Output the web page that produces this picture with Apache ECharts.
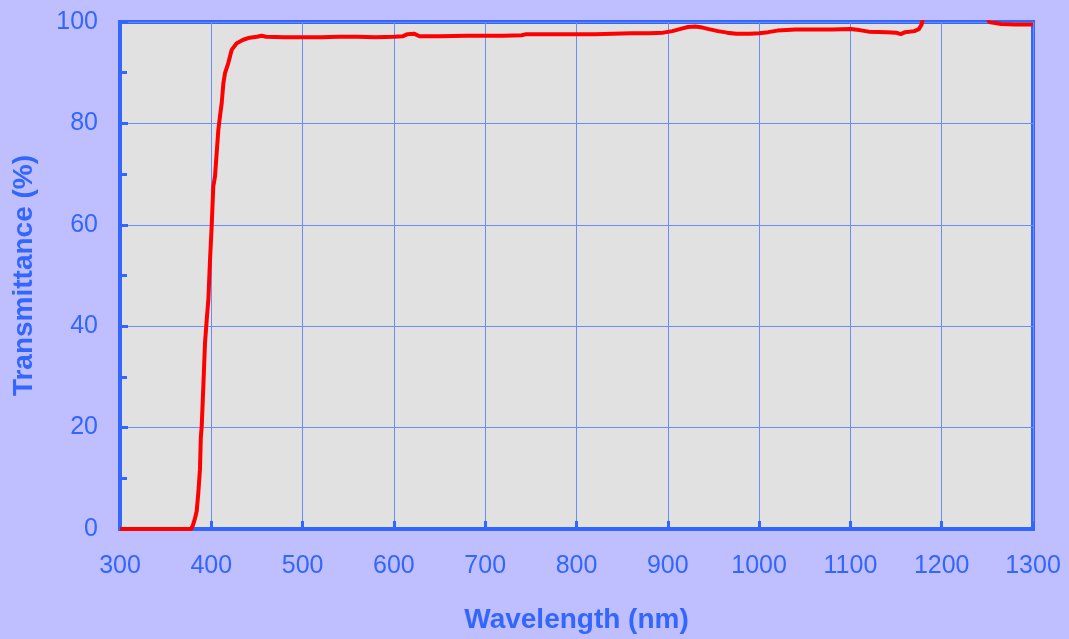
<!DOCTYPE html>
<html>
<head>
<meta charset="utf-8">
<script src="https://cdn.jsdelivr.net/npm/echarts@6/dist/echarts.min.js"></script>
<style>
  html, body { margin: 0; padding: 0; background: #BFBFFF; }
  #chart { width: 1069px; height: 639px; }
</style>
</head>
<body>
<div id="chart"></div>
<script>
// Wavelength (nm)
var wavelengths = [300, 378, 380, 382, 384, 385.8, 387.6, 388.5, 389.5, 391.3, 393.1, 395, 396.8, 398.6, 400.4,
  402.2, 404.1, 405.9, 407.7, 409.5, 411.4, 413.2, 415, 418.6, 422.3, 427.8, 435, 442, 450, 455, 460,
  480, 500, 520, 540, 560, 580, 600, 610, 615, 622, 628, 650, 680, 700, 720, 740, 745, 760, 780, 800,
  820, 840, 860, 880, 895, 905, 915, 922, 930, 938, 945, 955, 965, 975, 990, 1000, 1010, 1020, 1040,
  1060, 1080, 1100, 1110, 1120, 1140, 1150, 1155, 1160, 1170, 1175, 1178, 1180, 1200, 1230, 1250,
  1252, 1265, 1280, 1300];
// Transmittance (%)
var transmittance = [0, 0, 0.8, 2.0, 3.5, 7.2, 11.8, 18, 20.3, 28.2, 36.7, 41.3, 45.3, 53.1, 59.7,
  67.6, 69.6, 74.2, 78.7, 81.4, 84.0, 87.9, 89.9, 91.9, 94.5, 95.8, 96.5, 96.9, 97.1, 97.3, 97.1,
  97.0, 97.0, 97.0, 97.1, 97.1, 97.0, 97.1, 97.2, 97.6, 97.7, 97.2, 97.2, 97.3, 97.3, 97.3, 97.4, 97.6, 97.6, 97.6, 97.6,
  97.6, 97.7, 97.8, 97.8, 97.9, 98.2, 98.7, 99.0, 99.1, 98.9, 98.6, 98.2, 97.9, 97.7, 97.7, 97.8, 98.0, 98.3, 98.5,
  98.5, 98.5, 98.6, 98.4, 98.1, 98.0, 97.9, 97.6, 98.0, 98.2, 98.6, 99.5, 101.2, 101.2, 101.2, 101.2,
  100.0, 99.6, 99.5, 99.5];
var xTicks = [300, 400, 500, 600, 700, 800, 900, 1000, 1100, 1200, 1300];
var yTicks = [0, 20, 40, 60, 80, 100];

var seriesData = wavelengths.map(function (w, i) { return [w, transmittance[i]]; });

var blue = '#3366FF';
var chart = echarts.init(document.getElementById('chart'), null, { renderer: 'canvas' });
chart.setOption({
  backgroundColor: '#BFBFFF',
  animation: false,
  grid: {
    left: 120, right: 36, top: 22, bottom: 109,
    show: true, backgroundColor: '#E1E1E1', borderColor: blue, borderWidth: 4
  },
  xAxis: {
    type: 'value', min: xTicks[0], max: xTicks[xTicks.length - 1], interval: 100,
    name: 'Wavelength (nm)', nameLocation: 'middle', nameGap: 77,
    nameTextStyle: { color: blue, fontSize: 28, fontWeight: 'bold', fontFamily: 'Liberation Sans' },
    axisLine: { show: true, lineStyle: { color: blue, width: 4 } },
    axisTick: { show: true, inside: true, length: 8, lineStyle: { color: blue, width: 3 } },
    axisLabel: { color: blue, fontSize: 25, fontFamily: 'Liberation Sans', margin: 25,
      formatter: function (v) { return String(v); } },
    splitLine: { show: true, lineStyle: { color: '#6A8CFF', width: 1 } }
  },
  yAxis: {
    type: 'value', min: yTicks[0], max: yTicks[yTicks.length - 1], interval: 20,
    name: 'Transmittance (%)', nameLocation: 'middle', nameGap: 82, nameRotate: 90,
    nameTextStyle: { color: blue, fontSize: 28, fontWeight: 'bold', fontFamily: 'Liberation Sans' },
    axisLine: { show: true, lineStyle: { color: blue, width: 4 } },
    axisTick: { show: true, inside: true, length: 8, lineStyle: { color: blue, width: 3 } },
    minorTick: { show: true, splitNumber: 2, length: 7, lineStyle: { color: blue, width: 3 } },
    axisLabel: { color: blue, fontSize: 25, fontFamily: 'Liberation Sans', margin: 22,
      formatter: function (v) { return String(v); } },
    splitLine: { show: true, lineStyle: { color: '#6A8CFF', width: 1 } }
  },
  series: [{
    type: 'line', data: seriesData, showSymbol: false, symbol: 'none', clip: true,
    lineStyle: { color: '#FF0000', width: 4 }
  }]
});
</script>
</body>
</html>
